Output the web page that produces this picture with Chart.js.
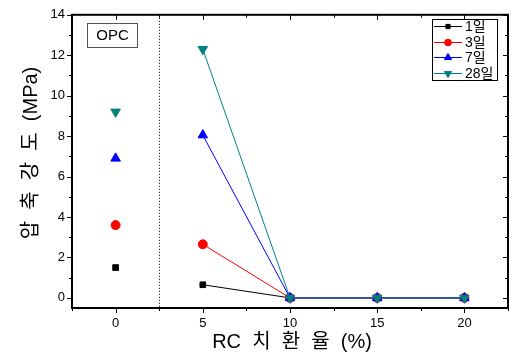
<!DOCTYPE html>
<html>
<head>
<meta charset="utf-8">
<script src="https://cdn.jsdelivr.net/npm/chart.js@4.4.0/dist/chart.umd.min.js"></script>
<style>
  html, body { margin: 0; padding: 0; background: #fff; }
  #wrap { width: 517px; height: 354px; }
</style>
</head>
<body>
<div id="wrap"><canvas id="chart" width="517" height="354"></canvas></div>
<script>
// RC replacement ratio (%)
const ratios = [0, 5, 10, 15, 20];
const day1 = [1.5, 0.65, 0, 0, 0];
const day3 = [3.6, 2.65, 0, 0, 0];
const day7 = [6.9, 8.05, 0, 0, 0];
const day28 = [9.2, 12.3, 0, 0, 0];
const seriesNames = ['1일', '3일', '7일', '28일'];
const xTicks = [0, 5, 10, 15, 20];
const yTicks = [0, 2, 4, 6, 8, 10, 12, 14];
const xTitle = 'RC  치  환  율  (%)';
const yTitle = '압  축  강  도  (MPa)';

const KFONT = '"Liberation Sans", Arial, "Noto Sans CJK KR", sans-serif';

function pts(vals) {
    return ratios.map((x, i) => ({ x: x, y: vals[i] }));
}

// OPC point (x=0) is not joined to the RC points
const noOpcLine = {
    borderColor: ctx => ctx.p0DataIndex === 0 ? 'rgba(0,0,0,0)' : undefined
};

function makeSet(label, vals, color, style, rot, order, r) {
    return {
        label: label,
        data: pts(vals),
        borderColor: color,
        backgroundColor: color,
        pointBackgroundColor: color,
        pointBorderColor: color,
        borderWidth: 1,
        pointStyle: style,
        pointRotation: rot,
        pointRadius: r,
        pointHoverRadius: r,
        segment: noOpcLine,
        order: order
    };
}

const datasets = [
    makeSet(seriesNames[0], day1, '#000000', 'rect', 0, 3, 4),
    makeSet(seriesNames[1], day3, '#ff0000', 'circle', 0, 2, 4.5),
    makeSet(seriesNames[2], day7, '#0000ff', 'triangle', 0, 1, 5.5),
    makeSet(seriesNames[3], day28, '#008080', 'triangle', 180, 0, 5.5)
];

const framePlugin = {
    id: 'frame',
    afterDraw(chart) {
        const c = chart.ctx;
        const a = chart.chartArea;
        const xs = chart.scales.x, ys = chart.scales.y;
        c.save();
        c.strokeStyle = '#000';

        // dotted separator between OPC and RC
        const xd = Math.round(xs.getPixelForValue(2.5)) + 0.5;
        c.lineWidth = 1;
        c.setLineDash([1, 2]);
        c.beginPath();
        c.moveTo(xd, a.top);
        c.lineTo(xd, a.bottom);
        c.stroke();
        c.setLineDash([]);

        // frame
        c.lineWidth = 2;
        c.strokeRect(a.left, a.top, a.right - a.left, a.bottom - a.top);

        // ticks
        c.lineWidth = 1;
        c.beginPath();
        for (let v = 0; v <= 14; v++) {
            const y = Math.round(ys.getPixelForValue(v)) + 0.5;
            const len = v % 2 === 0 ? 5 : 3;
            c.moveTo(a.left - len, y); c.lineTo(a.left, y);
            c.moveTo(a.right, y); c.lineTo(a.right - len, y);
        }
        for (let v = -2.5; v <= 22.5; v += 2.5) {
            const x = Math.round(xs.getPixelForValue(v)) + 0.5;
            const len = (v % 5 === 0) ? 5 : 3;
            c.moveTo(x, a.bottom); c.lineTo(x, a.bottom + len);
            c.moveTo(x, a.top); c.lineTo(x, a.top + len);
        }
        c.stroke();

        // axis titles
        c.fillStyle = '#000';
        c.font = '20px ' + KFONT;
        c.textAlign = 'center';
        c.textBaseline = 'middle';
        c.fillText(xTitle, 292, 342);
        c.save();
        c.translate(31, 153);
        c.rotate(-Math.PI / 2);
        c.fillText(yTitle, 0, 0);
        c.restore();

        // OPC label box
        c.lineWidth = 1;
        c.strokeStyle = '#555';
        c.strokeRect(87.5, 23.5, 50, 24);
        c.font = '15px ' + KFONT;
        c.fillText('OPC', 112.5, 36);

        // legend
        c.strokeStyle = '#000';
        c.strokeRect(432.5, 19.5, 65, 61);
        const rowY = [26, 42, 57, 73];
        c.font = '14px ' + KFONT;
        c.textAlign = 'left';
        datasets.forEach((d, i) => {
            const y = rowY[i] + 0.5;
            c.strokeStyle = d.borderColor;
            c.lineWidth = 1;
            c.beginPath();
            c.moveTo(434, y); c.lineTo(462, y);
            c.stroke();
            c.fillStyle = d.pointBackgroundColor;
            c.strokeStyle = d.pointBorderColor;
            Chart.helpers.drawPoint(c, {
                pointStyle: d.pointStyle, rotation: d.pointRotation,
                radius: d.pointRadius * 0.75, borderWidth: 1
            }, 448, y);
            c.fillStyle = '#000';
            c.fillText(d.label, 465, y + 0.5);
        });
        c.restore();
    }
};

new Chart(document.getElementById('chart'), {
    type: 'line',
    data: { datasets: datasets },
    options: {
        responsive: false,
        animation: false,
        layout: { padding: { top: 14, right: 9, left: 0, bottom: 0 } },
        plugins: {
            legend: { display: false },
            tooltip: { enabled: false }
        },
        scales: {
            x: {
                type: 'linear',
                min: -2.5,
                max: 22.5,
                grid: { display: false, drawTicks: false },
                border: { display: false },
                afterBuildTicks: s => { s.ticks = xTicks.map(v => ({ value: v })); },
                afterFit: s => { s.height = 46; },
                ticks: {
                    color: '#000',
                    padding: 8,
                    font: { family: KFONT, size: 13 }
                }
            },
            y: {
                min: -0.5,
                max: 14,
                grid: { display: false, drawTicks: false },
                border: { display: false },
                afterBuildTicks: s => { s.ticks = yTicks.map(v => ({ value: v })); },
                afterFit: s => { s.width = 72; },
                ticks: {
                    color: '#000',
                    padding: 7,
                    font: { family: KFONT, size: 13 }
                }
            }
        }
    },
    plugins: [framePlugin]
});
</script>
</body>
</html>
